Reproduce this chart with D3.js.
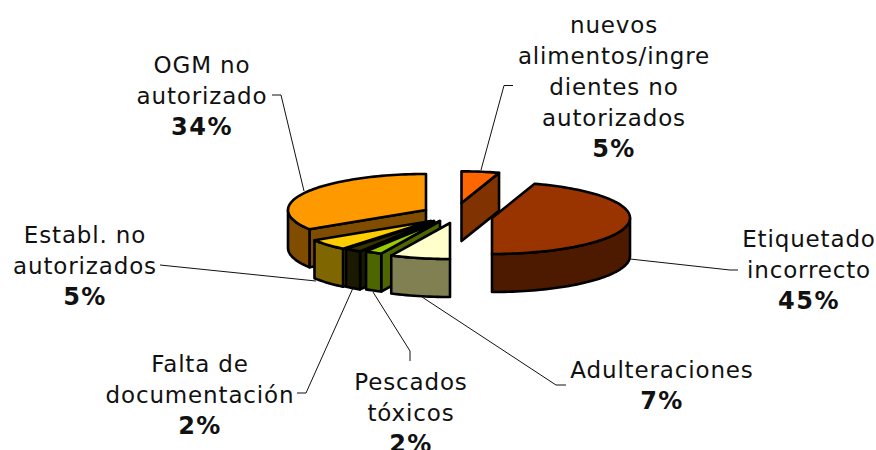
<!DOCTYPE html>
<html lang="es">
<head>
    <meta charset="UTF-8">
    <title>Notificaciones por categoría</title>
    <style>
        html, body { margin: 0; padding: 0; background: #fff; overflow: hidden; }
        .label { font: 23px "DejaVu Sans", sans-serif; letter-spacing: 0.85px; fill: #111; text-anchor: middle; }
        .label .pct { font-weight: bold; font-size: 24px; letter-spacing: 1.5px; }
        .leader { fill: none; stroke: #111; stroke-width: 1; }
        .face { stroke: #000; stroke-width: 2.6; stroke-linejoin: round; }
    </style>
</head>
<body>
    <div id="chart"></div>
    <script src="https://d3js.org/d3.v7.min.js"></script>
    <script>
        const categories = ["nuevos alimentos/ingredientes no autorizados", "Etiquetado incorrecto", "Adulteraciones",
            "Pescados tóxicos", "Falta de documentación", "Establ. no autorizados", "OGM no autorizado"];
        const values = [5, 45, 7, 2, 2, 5, 34];
        const colors = ["#ff6600", "#993300", "#ffffcc", "#99cc00", "#333300", "#ffcc00", "#ff9900"];
        const labelLines = [
            ["nuevos", "alimentos/ingre", "dientes no", "autorizados"],
            ["Etiquetado", "incorrecto"],
            ["Adulteraciones"],
            ["Pescados", "tóxicos"],
            ["Falta de", "documentación"],
            ["Establ. no", "autorizados"],
            ["OGM no", "autorizado"]
        ];

        // layout only
        const width = 876, height = 450;
        const rx = 138, ry = 36, depth = 38;
        const apex = [[461.5, 203], [492, 218], [450, 223], [440, 221], [434, 221], [431, 221], [426, 210]];
        const radiusScale = [0.88, 1, 1, 1, 1, 1, 1];
        const labelPos = [[614, 33], [809, 247], [662, 378], [411, 390], [200, 372], [85, 243], [202, 73]];
        const leaders = [
            [[481, 170], [504, 85.5], [513, 85.5]],
            [[630, 259], [730, 270], [738, 270]],
            [[422, 297], [556, 385], [566, 385]],
            [[373, 292], [410, 351], [410, 361]],
            [[353, 288], [306, 393], [297, 393]],
            [[316, 281], [160, 265]],
            [[304, 191], [281, 95], [272, 95]]
        ];
        const drawOrder = [6, 0, 1, 5, 4, 3, 2];

        const svg = d3.select("#chart").append("svg")
            .attr("width", width)
            .attr("height", height);

        const arcs = d3.pie().sort(null)(values);
        const line = d3.line();

        function rim(i, a) {
            const k = radiusScale[i];
            return [apex[i][0] + k * rx * Math.sin(a), apex[i][1] - k * ry * Math.cos(a)];
        }
        const drop = p => [p[0], p[1] + depth];

        function arcPoints(i, a0, a1) {
            const n = Math.max(2, Math.ceil((a1 - a0) / 0.03));
            return d3.range(n + 1).map(j => rim(i, a0 + (a1 - a0) * j / n));
        }

        function drawFace(pts, fill) {
            svg.append("path")
                .attr("class", "face")
                .attr("d", line(pts) + "Z")
                .attr("fill", fill);
        }

        drawOrder.forEach(i => {
            const a0 = arcs[i].startAngle, a1 = arcs[i].endAngle;
            const c = d3.rgb(colors[i]);
            const wall = d3.rgb(c.r / 2, c.g / 2, c.b * 0.4).formatHex();
            const center = apex[i];

            // radial cut faces, only the ones turned towards the viewer
            if (Math.sin(a0) < -1e-6) {
                const p = rim(i, a0);
                drawFace([center, p, drop(p), drop(center)], wall);
            }
            if (Math.sin(a1) > 1e-6) {
                const p = rim(i, a1);
                drawFace([center, p, drop(p), drop(center)], wall);
            }

            // outer wall for the front half of the ellipse
            const f0 = Math.max(a0, Math.PI / 2), f1 = Math.min(a1, Math.PI * 1.5);
            if (f1 > f0) {
                const top = arcPoints(i, f0, f1);
                drawFace(top.concat(top.map(drop).reverse()), wall);
            }

            drawFace([center].concat(arcPoints(i, a0, a1)), colors[i]);
        });

        svg.selectAll(".leader")
            .data(leaders)
            .enter().append("path")
            .attr("class", "leader")
            .attr("d", d => line(d));

        const lineStep = 31;
        const label = svg.selectAll(".label")
            .data(categories)
            .enter().append("text")
            .attr("class", "label")
            .attr("transform", (d, i) => `translate(${labelPos[i][0]},${labelPos[i][1]})`);

        label.each(function (d, i) {
            const t = d3.select(this);
            labelLines[i].forEach((s, j) => {
                t.append("tspan").attr("x", 0).attr("y", j * lineStep).text(s);
            });
            t.append("tspan")
                .attr("class", "pct")
                .attr("x", 0)
                .attr("y", labelLines[i].length * lineStep)
                .text(values[i] + "%");
        });
    </script>
</body>
</html>
